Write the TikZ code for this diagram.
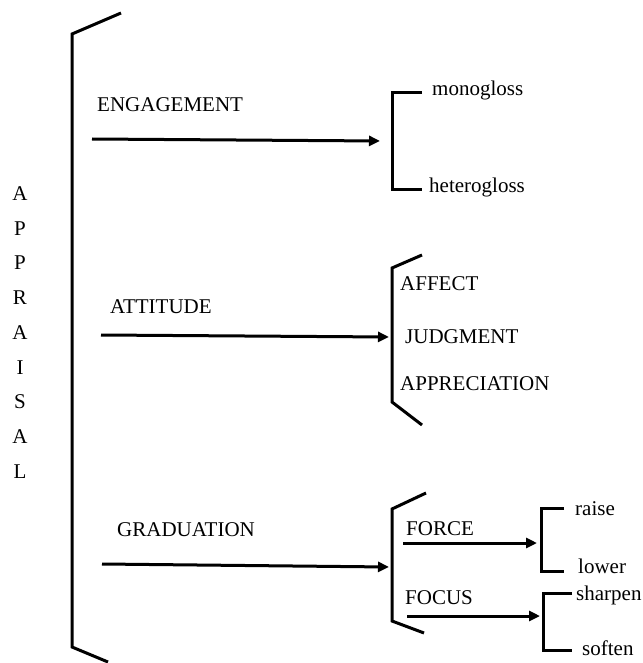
\documentclass[tikz,border=0pt]{standalone}
\usepackage{fontspec}
\setmainfont{Liberation Serif}
\usetikzlibrary{arrows.meta}
\begin{document}
\begin{tikzpicture}[x=1pt,y=-1pt,
  lbl/.style={anchor=base west, inner sep=0pt, font=\fontsize{21}{21}\selectfont},
  letter/.style={anchor=base, inner sep=0pt, font=\fontsize{21}{21}\selectfont},
  brk/.style={line width=3pt, line join=miter, line cap=butt},
  arr/.style={line width=3pt, -{Triangle[length=11pt,width=10pt]}}]
\useasboundingbox (0,0) rectangle (642,663);

% vertical title
\foreach \ch [count=\i from 0] in {A,P,P,R,A,I,S,A,L}
  \node[letter] (t\i) at (20,{200.5+34.7*\i}) {\ch};

% main bracket
\draw[brk] (121,13) -- (72,34) -- (72,647) -- (108,662);

% system entries
\node[lbl] (eng) at (97,112) {ENGAGEMENT};
\node[lbl] (att) at (110,313) {ATTITUDE};
\node[lbl] (grad) at (117,536) {GRADUATION};

\coordinate (engS) at (92,139);
\coordinate (attS) at (101,335);
\coordinate (gradS) at (102,564);

% ENGAGEMENT choices
\coordinate (engB) at (380,141);
\draw[brk] (422,93) -- (392,93) -- (392,189) -- (422,189);
\node[lbl] (mono) at (432,96) {monogloss};
\node[lbl] (hetero) at (429,192) {heterogloss};

% ATTITUDE choices
\coordinate (attB) at (389,337);
\draw[brk] (422,255) -- (392,268) -- (392,402) -- (422,425);
\node[lbl] (affect) at (400,290) {AFFECT};
\node[lbl] (judg) at (405,343) {JUDGMENT};
\node[lbl] (appr) at (400,390) {APPRECIATION};

% GRADUATION choices
\coordinate (gradB) at (389,567);
\draw[brk] (426,493) -- (392,509) -- (392,621) -- (424,633);
\node[lbl] (force) at (406,535) {FORCE};
\node[lbl] (focus) at (405,604) {FOCUS};
\coordinate (forceS) at (403,543);
\coordinate (forceB) at (537,543);
\coordinate (focusS) at (407,616);
\coordinate (focusB) at (540,616);

% FORCE choices
\draw[brk] (564,508) -- (541,508) -- (541,571) -- (564,571);
\node[lbl] (raise) at (575,515) {raise};
\node[lbl] (lower) at (578,573) {lower};

% FOCUS choices
\draw[brk] (572,593) -- (543,593) -- (543,650) -- (572,650);
\node[lbl] (sharpen) at (576,600) {sharpen};
\node[lbl] (soften) at (582,655) {soften};

% arrows
\draw[arr] (engS) -- (engB);
\draw[arr] (attS) -- (attB);
\draw[arr] (gradS) -- (gradB);
\draw[arr] (forceS) -- (forceB);
\draw[arr] (focusS) -- (focusB);
\end{tikzpicture}
\end{document}
